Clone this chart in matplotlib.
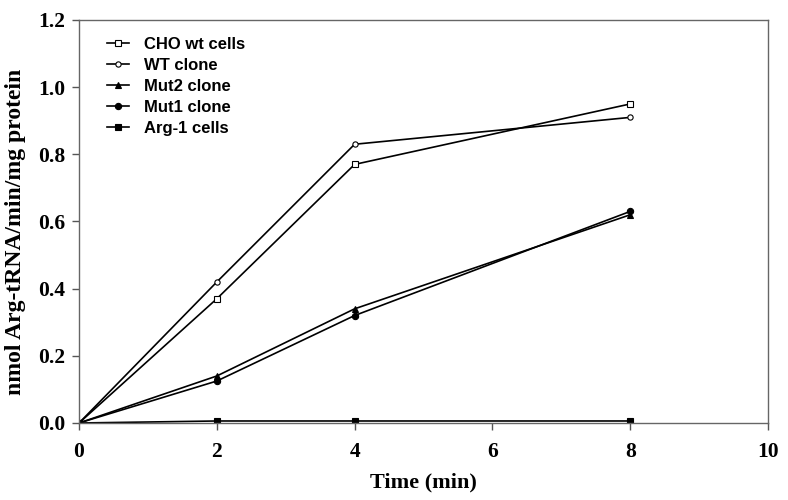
import matplotlib
matplotlib.use("Agg")
import matplotlib.pyplot as plt

time = [0, 2, 4, 8]
series_names = ["CHO wt cells", "WT clone", "Mut2 clone", "Mut1 clone", "Arg-1 cells"]
cho_wt = [0.0, 0.37, 0.77, 0.95]
wt_clone = [0.0, 0.42, 0.83, 0.91]
mut2_clone = [0.0, 0.14, 0.34, 0.62]
mut1_clone = [0.0, 0.125, 0.32, 0.63]
arg1_cells = [0.0, 0.006, 0.006, 0.006]
x_ticks = [0, 2, 4, 6, 8, 10]
y_ticks = [0.0, 0.2, 0.4, 0.6, 0.8, 1.0, 1.2]

fig = plt.figure(figsize=(7.88, 5.0), dpi=100)
ax = fig.add_axes([0.1003, 0.154, 0.8743, 0.806])

styles = [
    dict(marker="s", mfc="white", ms=3.8),
    dict(marker="o", mfc="white", ms=3.8),
    dict(marker="^", mfc="black", ms=4.5),
    dict(marker="o", mfc="black", ms=4.5),
    dict(marker="s", mfc="black", ms=4.2),
]
for name, vals, st in zip(series_names, [cho_wt, wt_clone, mut2_clone, mut1_clone, arg1_cells], styles):
    ax.plot(time, vals, color="black", lw=1.2, mec="black", mew=0.8, label=name, **st)

ax.set_xlim(0, 10)
ax.set_ylim(0, 1.2)
ax.set_xticks(x_ticks)
ax.set_yticks(y_ticks)
ax.set_xticklabels([str(v) for v in x_ticks])
ax.set_yticklabels([f"{v:.1f}" for v in y_ticks])

serif = "Liberation Serif"
for lab in ax.get_xticklabels() + ax.get_yticklabels():
    lab.set_fontfamily(serif)
    lab.set_fontweight("bold")
    lab.set_fontsize(15.5)

ax.tick_params(direction="out", length=5, width=1, color="#555555", pad=5,
               top=False, right=False)
ax.tick_params(axis="x", pad=9)
for sp in ax.spines.values():
    sp.set_color("#666666")
    sp.set_linewidth(1.0)

ax.set_xlabel("Time (min)", fontfamily=serif, fontweight="bold", fontsize=16, labelpad=7)
ax.set_ylabel("nmol Arg-tRNA/min/mg protein", fontfamily=serif, fontweight="bold", fontsize=17)
ax.yaxis.set_label_coords(-0.077, 0.475)

leg = ax.legend(loc="upper left", bbox_to_anchor=(0.031, 0.975), frameon=False,
                prop=dict(family="Liberation Sans", weight="bold", size=12),
                handlelength=1.3, handletextpad=0.9, labelspacing=0.36, borderaxespad=0)

fig.savefig("out.png", dpi=100, facecolor="white")
